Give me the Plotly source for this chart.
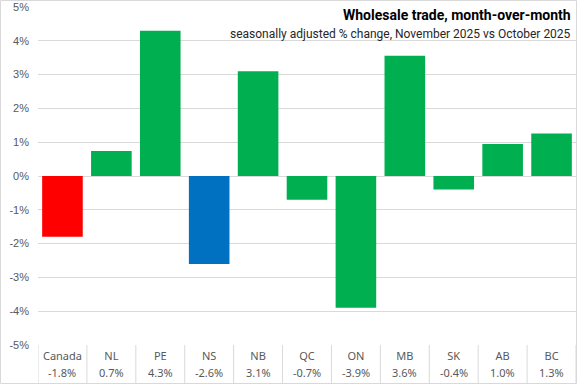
import plotly.graph_objects as go

# ---- data ----
categories = ["Canada", "NL", "PE", "NS", "NB", "QC", "ON", "MB", "SK", "AB", "BC"]
values = [-1.8, 0.74, 4.3, -2.6, 3.1, -0.7, -3.9, 3.56, -0.4, 0.95, 1.26]
value_labels = ["-1.8%", "0.7%", "4.3%", "-2.6%", "3.1%", "-0.7%", "-3.9%", "3.6%", "-0.4%", "1.0%", "1.3%"]
y_tick_vals = [-5, -4, -3, -2, -1, 0, 1, 2, 3, 4, 5]
y_tick_text = ["-5%", "-4%", "-3%", "-2%", "-1%", "0%", "1%", "2%", "3%", "4%", "5%"]
title = "Wholesale trade, month-over-month"
subtitle = "seasonally adjusted % change, November 2025 vs October 2025"

# ---- styles ----
GREEN, RED, BLUE = "#00B050", "#FF0000", "#0070C0"
bar_colors = [RED if c == "Canada" else BLUE if c == "NS" else GREEN for c in categories]
GRID = "#D9D9D9"
TXT = "#595959"

W, H = 577, 384
ML, MR, MT, MB = 38, 1, 7, 39
plot_h = H - MT - MB
plot_w = W - ML - MR

fig = go.Figure(go.Bar(
    x=list(range(len(categories))),
    y=values,
    marker=dict(color=bar_colors, line=dict(width=0)),
    hoverinfo="skip",
))

fig.update_layout(
    width=W, height=H,
    margin=dict(l=ML, r=MR, t=MT, b=MB),
    paper_bgcolor="white", plot_bgcolor="white",
    bargap=0.17,
    showlegend=False,
    font=dict(family="Noto Sans, sans-serif", color=TXT, size=11),
    xaxis=dict(
        tickmode="array",
        tickvals=list(range(len(categories))),
        ticktext=categories,
        range=[-0.5, len(categories) - 0.5],
        showgrid=False, zeroline=False, showline=False,
        ticks="",
        ticklabelstandoff=3,
        tickfont=dict(family="Noto Sans, sans-serif", size=11, color=TXT),
        fixedrange=True,
    ),
    yaxis=dict(
        range=[-5, 5],
        tickmode="array", tickvals=y_tick_vals, ticktext=y_tick_text,
        showgrid=True, gridcolor=GRID, gridwidth=1,
        zeroline=False, showline=False, ticks="",
        ticklabelstandoff=8,
        tickfont=dict(family="Liberation Sans, Arial, sans-serif", size=11, color=TXT),
        fixedrange=True,
    ),
)

# value labels (second row under the category names)
for i, lab in enumerate(value_labels):
    fig.add_annotation(text=lab, xref="x", yref="paper", x=i, y=-27 / plot_h,
                       xanchor="center", yanchor="middle", showarrow=False,
                       font=dict(family="Noto Sans, sans-serif", size=11, color=TXT))

# category separators below the axis
shapes = []
bottom = -(MB - 0.5) / plot_h
for i in range(len(categories) + 1):
    shapes.append(dict(type="line", xref="x", yref="paper",
                       x0=i - 0.5, x1=i - 0.5, y0=0, y1=bottom,
                       line=dict(color=GRID, width=1)))
# chart outer border
shapes.append(dict(type="rect", xref="paper", yref="paper",
                   x0=-(ML - 0.5) / plot_w, x1=1 + (MR - 0.5) / plot_w,
                   y0=bottom, y1=1 + (MT - 0.5) / plot_h,
                   line=dict(color=GRID, width=1), fillcolor="rgba(0,0,0,0)"))
fig.update_layout(shapes=shapes)

fig.add_annotation(text=f"<b>{title}</b>", xref="paper", yref="paper",
                   x=1 - 3 / plot_w, y=1 - 8 / plot_h, xanchor="right", yanchor="middle",
                   showarrow=False, font=dict(family="Roboto, sans-serif", size=14, color="#000000"))
fig.add_annotation(text=subtitle, xref="paper", yref="paper",
                   x=1 - 3 / plot_w, y=1 - 27 / plot_h, xanchor="right", yanchor="middle",
                   showarrow=False, font=dict(family="Roboto, sans-serif", size=12, color="#262626"))

fig.write_html("out.html", config={"displayModeBar": False},
               post_script="document.body.style.margin='0';")
